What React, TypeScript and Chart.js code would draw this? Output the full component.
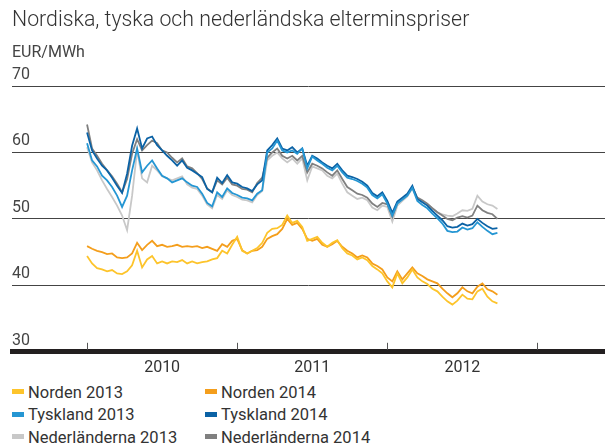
import React, { useEffect, useRef } from "react";
import { Chart, registerables } from "chart.js";

Chart.register(...registerables);

// ---- Text ----
const titleText = "Nordiska, tyska och nederländska elterminspriser";
const unitText = "EUR/MWh";

// ---- Axes ----
const yTicks = [30, 40, 50, 60, 70];
const yearLabels = [2010, 2011, 2012];
const yearBoundaries = [2010, 2011, 2012, 2013];
const xMin = 2009.5;
const xMax = 2013.45;

// sampling grid of the series (first sample = start of 2010, one sample every 1/30 year)
const startYear = 2010;
const stepYears = 1 / 30;

// ---- Series (EUR/MWh) ----
const seriesNames = [
  "Norden 2013",
  "Norden 2014",
  "Tyskland 2013",
  "Tyskland 2014",
  "Nederländerna 2013",
  "Nederländerna 2014",
];

const norden2013 = [
  44.4, 43.3, 42.6, 42.4, 42.1, 42.3, 41.8, 41.7, 42.1, 43.0,
  45.2, 42.7, 43.9, 44.4, 43.3, 43.6, 43.3, 43.6, 43.5, 43.8,
  43.3, 43.6, 43.3, 43.5, 43.6, 43.9, 44.1, 45.2, 44.8, 46.1,
  47.3, 45.2, 44.8, 45.2, 45.6, 46.4, 47.9, 48.5, 48.6, 49.1,
  50.5, 49.4, 49.7, 48.8, 46.7, 47.0, 47.3, 46.4, 45.8, 46.4,
  46.8, 45.6, 44.8, 44.5, 43.9, 44.2, 43.8, 42.9, 42.4, 41.8,
  40.6, 39.7, 41.8, 40.3, 41.2, 42.4, 41.2, 40.6, 40.2, 39.5,
  39.1, 38.3, 37.6, 37.1, 37.7, 38.6, 38.0, 37.9, 39.1, 39.5,
  38.3, 37.6, 37.3,
];

const norden2014 = [
  45.9, 45.5, 45.2, 45.0, 44.7, 44.8, 44.2, 44.1, 44.2, 44.8,
  46.4, 45.3, 46.1, 46.7, 45.9, 46.1, 45.8, 45.9, 46.1, 45.8,
  45.9, 45.8, 45.9, 45.6, 45.8, 45.5, 45.2, 46.2, 45.8, 46.7,
  47.0, 45.3, 44.8, 45.2, 45.3, 45.8, 47.0, 47.4, 47.7, 48.5,
  50.0, 49.1, 49.4, 48.5, 47.0, 46.7, 47.0, 46.1, 45.8, 46.2,
  46.7, 45.8, 45.2, 44.8, 44.2, 44.5, 44.2, 43.3, 42.9, 42.4,
  41.2, 40.6, 42.1, 40.9, 41.8, 42.7, 41.8, 41.4, 40.9, 40.6,
  40.3, 39.5, 38.8, 38.2, 38.8, 39.7, 39.1, 38.8, 39.8, 40.3,
  39.4, 39.1, 38.6,
];

const tyskland2013 = [
  61.4, 58.8, 57.9, 56.5, 55.8, 54.8, 53.5, 51.8, 53.5, 57.3,
  60.6, 57.0, 58.0, 58.8, 57.6, 56.5, 56.1, 55.5, 55.8, 56.1,
  55.5, 55.0, 54.8, 53.8, 52.4, 51.9, 54.0, 53.3, 54.6, 53.9,
  53.6, 53.2, 53.1, 52.8, 53.8, 54.3, 60.0, 60.6, 61.8, 60.3,
  60.0, 60.3, 59.8, 60.6, 57.6, 59.4, 58.8, 58.3, 57.7, 57.3,
  58.0, 57.0, 56.2, 56.0, 55.7, 55.3, 54.7, 53.6, 53.1, 53.7,
  52.3, 50.5, 52.3, 52.9, 53.5, 54.7, 52.7, 52.1, 51.6, 50.8,
  50.1, 49.3, 48.2, 48.0, 48.1, 48.7, 48.4, 48.6, 49.5, 48.8,
  48.2, 47.7, 47.9,
];

const tyskland2014 = [
  63.0, 60.3, 59.1, 58.0, 57.3, 56.2, 55.0, 53.9, 56.8, 61.0,
  63.6, 60.6, 62.1, 62.4, 61.1, 60.3, 59.5, 58.8, 58.0, 58.8,
  57.7, 57.3, 56.8, 56.3, 54.5, 54.0, 56.2, 55.4, 56.6, 55.5,
  55.3, 54.8, 54.6, 54.2, 55.2, 55.8, 60.3, 61.1, 62.1, 60.6,
  60.3, 60.8, 60.0, 60.6, 58.0, 59.5, 59.1, 58.5, 58.0, 57.6,
  58.3, 57.3, 56.5, 56.3, 56.0, 55.6, 55.0, 53.9, 53.4, 54.0,
  52.7, 50.9, 52.6, 53.2, 53.8, 55.0, 53.0, 52.5, 52.0, 51.2,
  50.5, 49.8, 48.9, 48.7, 48.8, 49.3, 49.0, 49.2, 50.0, 49.4,
  48.9, 48.5, 48.6,
];

const nederlanderna2013 = [
  60.8, 58.5, 57.3, 55.8, 54.5, 53.3, 52.0, 50.5, 48.3, 53.5,
  60.3, 56.1, 55.5, 58.0, 57.3, 56.4, 56.1, 55.8, 56.1, 56.4,
  55.2, 54.7, 54.5, 53.5, 52.2, 51.6, 53.6, 53.0, 54.3, 53.6,
  53.3, 52.9, 52.8, 52.5, 53.6, 54.2, 58.8, 59.5, 60.0, 59.1,
  58.5, 59.1, 58.3, 59.1, 55.8, 57.9, 57.6, 57.3, 56.5, 56.1,
  56.8, 55.3, 54.0, 53.5, 53.0, 53.2, 52.8, 51.7, 51.3, 52.0,
  51.8, 49.6, 52.0, 52.7, 53.4, 54.6, 53.0, 52.6, 52.2, 51.6,
  51.0, 50.7, 50.5, 50.4, 50.8, 51.3, 51.2, 51.5, 53.5, 52.6,
  52.2, 52.0, 51.5,
];

const nederlanderna2014 = [
  64.2, 60.6, 59.5, 58.3, 57.3, 56.4, 55.3, 54.0, 56.0, 59.8,
  62.0, 60.3, 61.1, 61.8, 61.4, 60.3, 60.0, 59.2, 58.5, 59.1,
  57.9, 57.6, 56.9, 56.0, 54.6, 54.0, 55.8, 55.2, 56.2, 55.2,
  55.0, 54.5, 54.4, 54.0, 55.4, 56.2, 59.2, 60.0, 60.6, 59.5,
  59.1, 59.5, 58.8, 59.5, 57.0, 58.3, 58.0, 57.6, 57.0, 56.5,
  57.3, 56.0, 54.8, 54.3, 53.8, 53.6, 53.2, 52.3, 51.8, 52.4,
  52.2, 50.3, 52.4, 53.0, 53.6, 54.8, 53.2, 52.8, 52.3, 51.6,
  51.0, 50.5, 50.0, 49.8, 50.2, 50.4, 50.2, 50.5, 52.0, 51.3,
  50.9, 50.7, 50.0,
];

const seriesColors = ["#FDC42B", "#F49E1C", "#2596D3", "#0B62A5", "#C8C8C8", "#808080"];
const drawOrder = [2, 3, 0, 1, 5, 4];

const FONT = "Roboto, 'Noto Sans', sans-serif";

const yearTickPlugin = {
  id: "yearTicks",
  afterDraw(chart: any) {
    const xs = chart.scales.x;
    const { ctx, chartArea } = chart;
    ctx.save();
    ctx.strokeStyle = "#555";
    ctx.lineWidth = 1;
    yearBoundaries.forEach((v) => {
      const px = Math.round(xs.getPixelForValue(v)) + 0.5;
      ctx.beginPath();
      ctx.moveTo(px, chartArea.bottom - 9);
      ctx.lineTo(px, chartArea.bottom - 2);
      ctx.stroke();
    });
    ctx.restore();
  },
};

export default function App() {
  const ref = useRef<HTMLCanvasElement>(null);

  useEffect(() => {
    const values = [norden2013, norden2014, tyskland2013, tyskland2014, nederlanderna2013, nederlanderna2014];
    const datasets = seriesNames.map((name, k) => ({
      label: name,
      data: values[k].map((v, i) => ({ x: startYear + i * stepYears, y: v })),
      borderColor: seriesColors[k],
      backgroundColor: seriesColors[k],
      borderWidth: 1.8,
      pointRadius: 0,
      tension: 0,
      order: drawOrder[k],
    }));

    const chart = new Chart(ref.current as HTMLCanvasElement, {
      type: "line",
      data: { datasets },
      options: {
        animation: false,
        responsive: false,
        maintainAspectRatio: false,
        layout: { padding: { top: 86, left: 12, right: 0, bottom: 4 } },
        plugins: { legend: { display: false }, tooltip: { enabled: false }, title: { display: false } },
        scales: {
          x: {
            type: "linear",
            min: xMin,
            max: xMax,
            afterBuildTicks: (s: any) => {
              s.ticks = yearLabels.map((y) => ({ value: y + 0.5 }));
            },
            ticks: {
              autoSkip: false,
              maxRotation: 0,
              padding: -1,
              color: "#333",
              font: { family: FONT, size: 16 },
              callback: (v: any) => String(Math.floor(Number(v))),
            },
            grid: { display: false },
            border: { display: true, color: "#231f20", width: 5 },
          },
          y: {
            min: 30,
            max: 70,
            afterBuildTicks: (s: any) => {
              s.ticks = yTicks.map((v) => ({ value: v }));
            },
            ticks: {
              mirror: true,
              padding: 0,
              labelOffset: -11,
              color: "#444",
              font: { family: FONT, size: 16 },
            },
            grid: { drawTicks: false, color: "#444", lineWidth: 1 },
            border: { display: false },
          },
        },
      },
      plugins: [yearTickPlugin],
    } as any);
    return () => chart.destroy();
  }, []);

  return (
    <div
      style={{
        position: "absolute",
        left: 0,
        top: 0,
        width: 605,
        height: 445,
        background: "#fff",
        overflow: "hidden",
        fontFamily: FONT,
        color: "#333",
      }}
    >
      <canvas ref={ref} width={605} height={381} style={{ position: "absolute", left: 0, top: 0, width: 605, height: 381 }} />
      <div style={{ position: "absolute", left: 12, top: 8, fontSize: 21.3, fontWeight: 300, lineHeight: 1, whiteSpace: "nowrap" }}>
        {titleText}
      </div>
      <div style={{ position: "absolute", left: 12, top: 44, fontSize: 16, lineHeight: 1, color: "#444" }}>{unitText}</div>
      {seriesNames.map((name, k) => {
        const col = k % 2;
        const row = Math.floor(k / 2);
        return (
          <div
            key={name}
            style={{
              position: "absolute",
              left: 12 + col * 193,
              top: 381 + row * 22.5,
              height: 22.5,
              display: "flex",
              alignItems: "center",
              fontSize: 16.5,
              whiteSpace: "nowrap",
            }}
          >
            <span style={{ display: "inline-block", width: 12, height: 5, background: seriesColors[k], marginRight: 4, marginTop: -1 }} />
            <span>{name}</span>
          </div>
        );
      })}
    </div>
  );
}
